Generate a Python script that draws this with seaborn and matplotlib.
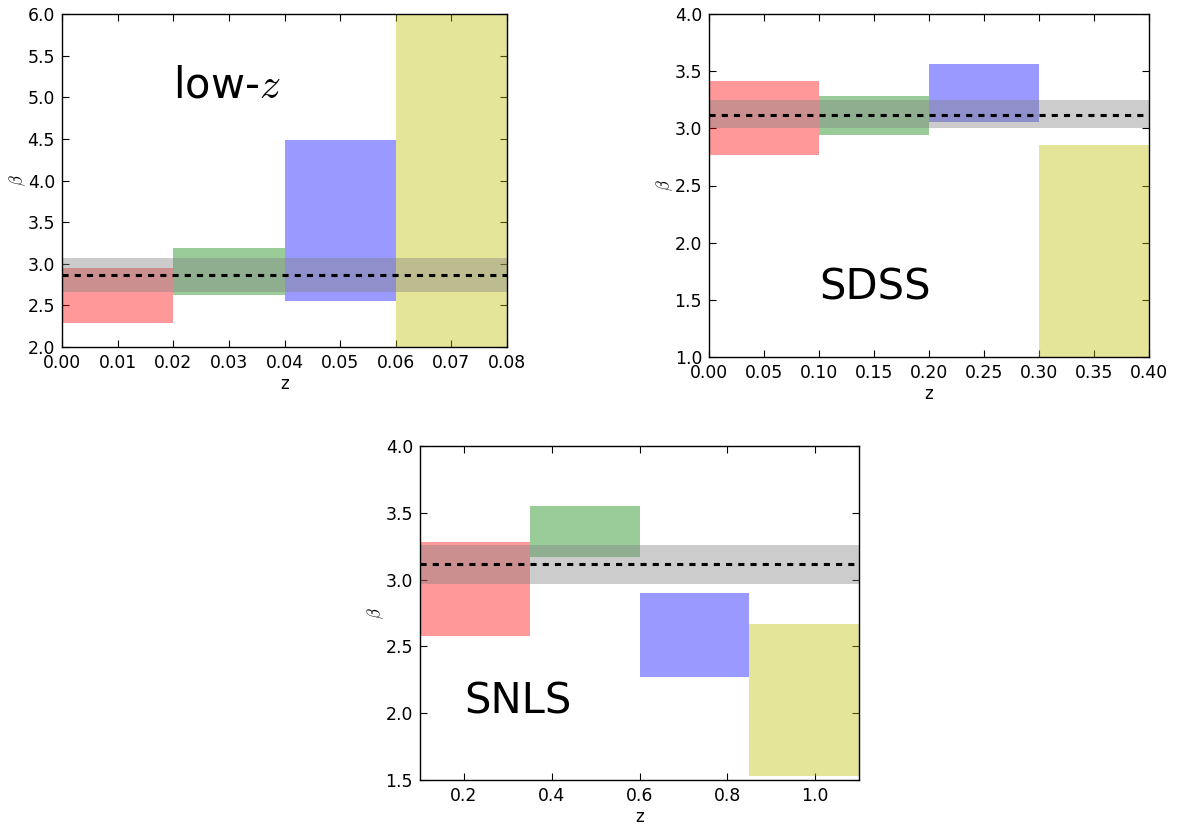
import numpy as np
import pandas as pd
import matplotlib
matplotlib.use("Agg")
import matplotlib.pyplot as plt
import seaborn as sns

# ---- data ----
lowz_edges = [0.00, 0.02, 0.04, 0.06, 0.08]
lowz_lo = [2.29, 2.625, 2.553, 1.0]
lowz_hi = [2.954, 3.19, 4.485, 7.0]
lowz_beta, lowz_beta_lo, lowz_beta_hi = 2.866, 2.66, 3.066

sdss_edges = [0.0, 0.1, 0.2, 0.3, 0.4]
sdss_lo = [2.77, 2.945, 3.056, 0.5]
sdss_hi = [3.415, 3.28, 3.56, 2.85]
sdss_beta, sdss_beta_lo, sdss_beta_hi = 3.12, 3.0, 3.246

snls_edges = [0.1, 0.35, 0.6, 0.85, 1.1]
snls_lo = [2.58, 3.167, 2.27, 1.53]
snls_hi = [3.28, 3.55, 2.90, 2.67]
snls_beta, snls_beta_lo, snls_beta_hi = 3.117, 2.97, 3.26

colors = ['r', 'g', 'b', 'y']

sns.set_style("ticks")
plt.rcParams['font.family'] = ['DejaVu Sans']
plt.rcParams['mathtext.fontset'] = 'cm'
plt.rcParams['text.color'] = 'black'
plt.rcParams['axes.labelcolor'] = 'black'
plt.rcParams['xtick.color'] = 'black'
plt.rcParams['ytick.color'] = 'black'

fig = plt.figure(figsize=(11.79, 8.27), dpi=100)
W, H = 1179.0, 827.0

def make_ax(left, top, right, bottom):
    return fig.add_axes([left / W, 1 - bottom / H, (right - left) / W, (bottom - top) / H])

panels = [
    dict(pos=(62, 14, 507, 347), edges=lowz_edges, lo=lowz_lo, hi=lowz_hi,
         beta=(lowz_beta, lowz_beta_lo, lowz_beta_hi), xlim=(0, 0.08), ylim=(2, 6),
         xticks=np.arange(0, 0.0801, 0.01), xfmt="{:.2f}", yticks=np.arange(2, 6.01, 0.5),
         label="low-$z$", lpos=(0.02, 5.0)),
    dict(pos=(709, 14, 1149, 357), edges=sdss_edges, lo=sdss_lo, hi=sdss_hi,
         beta=(sdss_beta, sdss_beta_lo, sdss_beta_hi), xlim=(0, 0.4), ylim=(1, 4),
         xticks=np.arange(0, 0.401, 0.05), xfmt="{:.2f}", yticks=np.arange(1, 4.01, 0.5),
         label="SDSS", lpos=(0.1, 1.5)),
    dict(pos=(420, 446, 859, 780), edges=snls_edges, lo=snls_lo, hi=snls_hi,
         beta=(snls_beta, snls_beta_lo, snls_beta_hi), xlim=(0.1, 1.1), ylim=(1.5, 4),
         xticks=np.arange(0.2, 1.01, 0.2), xfmt="{:.1f}", yticks=np.arange(1.5, 4.01, 0.5),
         label="SNLS", lpos=(0.2, 2.0)),
]

for p in panels:
    ax = make_ax(*p['pos'])
    edges = p['edges']
    lefts = edges[:-1]
    widths = np.diff(edges)
    lo = np.array(p['lo']); hi = np.array(p['hi'])
    ax.bar(lefts, hi - lo, width=widths, bottom=lo, align='edge',
           color=colors, alpha=0.4, linewidth=0)
    b, blo, bhi = p['beta']
    ax.axhspan(blo, bhi, color='gray', alpha=0.4, linewidth=0)
    df = pd.DataFrame({'z': [edges[0], edges[-1]], 'beta': [b, b]})
    sns.lineplot(data=df, x='z', y='beta', ax=ax, color='k', lw=2.2,
                 dashes=False, linestyle=(0, (2.0, 2.0)))
    ax.set_xlim(*p['xlim']); ax.set_ylim(*p['ylim'])
    ax.set_xticks(p['xticks'])
    ax.set_xticklabels([p['xfmt'].format(v) for v in p['xticks']])
    ax.set_yticks(p['yticks'])
    ax.set_yticklabels(["{:.1f}".format(v) for v in p['yticks']])
    ax.tick_params(direction='in', top=True, right=True, length=5, width=0.8,
                   labelsize=12.4, pad=5, color='k', labelcolor='k')
    for s in ax.spines.values():
        s.set_visible(True); s.set_linewidth(1.0); s.set_color('k')
    ax.set_xlabel('z', fontsize=12, color='k', labelpad=2)
    ax.set_ylabel(r'$\beta$', fontsize=12, color='k', labelpad=0)
    ax.text(p['lpos'][0], p['lpos'][1], p['label'], fontsize=30, va='baseline',
            ha='left', color='k')

fig.savefig('out.png', dpi=100)
